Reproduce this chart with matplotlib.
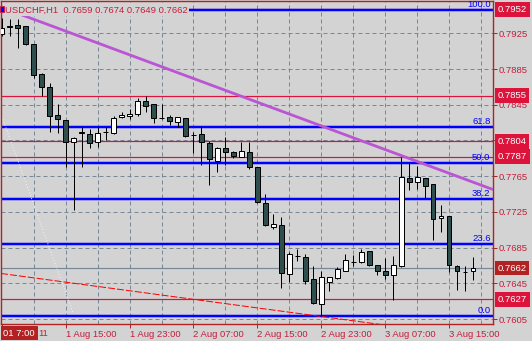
import numpy as np
import matplotlib
matplotlib.use('Agg')
import matplotlib.pyplot as plt
import matplotlib.transforms as mtransforms
from matplotlib.patches import Rectangle

plt.rcParams['font.family'] = ['Liberation Sans', 'DejaVu Sans']

# USDCHF H1, bar 0 = 1 Aug 15:00, first visible bar = 1 Aug 07:00
title = 'USDCHF,H1  0.7659 0.7674 0.7649 0.7662'
bars = np.arange(-8, 52)

opens = [0.7924, 0.7933, 0.7934, 0.7933, 0.7913, 0.7879, 0.7865, 0.7833,
         0.7828, 0.7803, 0.7814, 0.7812, 0.7803, 0.7815, 0.7813, 0.7831,
         0.7832, 0.7835, 0.7849, 0.7846, 0.7830, 0.7831, 0.7826, 0.7830,
         0.7811, 0.7812, 0.7802, 0.7782, 0.7796, 0.7792, 0.7787, 0.7792,
         0.7775, 0.7735, 0.7708, 0.7710, 0.7655, 0.7676, 0.7675, 0.7650,
         0.7622, 0.7646, 0.7651, 0.7659, 0.7669, 0.7669, 0.7681, 0.7666,
         0.7659, 0.7654, 0.7664, 0.7763, 0.7758, 0.7763, 0.7756, 0.7718,
         0.7720, 0.7664, 0.7658, 0.7659]
highs = [0.7942, 0.7941, 0.7941, 0.7933, 0.7913, 0.7880, 0.7869, 0.7846,
         0.7828, 0.7809, 0.7820, 0.7818, 0.7820, 0.7820, 0.7832, 0.7837,
         0.7840, 0.7852, 0.7855, 0.7846, 0.7846, 0.7834, 0.7831, 0.7830,
         0.7815, 0.7821, 0.7804, 0.7798, 0.7809, 0.7793, 0.7803, 0.7803,
         0.7775, 0.7745, 0.7723, 0.7719, 0.7680, 0.7683, 0.7678, 0.7664,
         0.7659, 0.7652, 0.7663, 0.7678, 0.7677, 0.7683, 0.7681, 0.7666,
         0.7673, 0.7676, 0.7787, 0.7780, 0.7776, 0.7763, 0.7756, 0.7733,
         0.7720, 0.7665, 0.7664, 0.7674]
lows = [0.7922, 0.7922, 0.7909, 0.7912, 0.7875, 0.7855, 0.7814, 0.7813,
        0.7775, 0.7727, 0.7775, 0.7797, 0.7798, 0.7806, 0.7812, 0.7830,
        0.7829, 0.7832, 0.7837, 0.7825, 0.7829, 0.7822, 0.7820, 0.7809,
        0.7791, 0.7778, 0.7755, 0.7770, 0.7778, 0.7785, 0.7786, 0.7773,
        0.7735, 0.7709, 0.7706, 0.7640, 0.7647, 0.7670, 0.7644, 0.7622,
        0.7608, 0.7636, 0.7650, 0.7659, 0.7664, 0.7668, 0.7664, 0.7654,
        0.7650, 0.7626, 0.7663, 0.7749, 0.7751, 0.7741, 0.7693, 0.7703,
        0.7658, 0.7638, 0.7636, 0.7649]
closes = [0.7931, 0.7932, 0.7931, 0.7913, 0.7878, 0.7865, 0.7832, 0.7829,
          0.7803, 0.7808, 0.7813, 0.7802, 0.7813, 0.7815, 0.7830, 0.7834,
          0.7835, 0.7849, 0.7844, 0.7830, 0.7830, 0.7827, 0.7831, 0.7810,
          0.7811, 0.7803, 0.7784, 0.7797, 0.7792, 0.7788, 0.7793, 0.7775,
          0.7736, 0.7710, 0.7711, 0.7656, 0.7678, 0.7676, 0.7648, 0.7623,
          0.7652, 0.7652, 0.7661, 0.7671, 0.7669, 0.7680, 0.7665, 0.7659,
          0.7654, 0.7666, 0.7764, 0.7759, 0.7764, 0.7754, 0.7717, 0.7720,
          0.7665, 0.7659, 0.7658, 0.7662]

time_ticks = [-8, 0, 8, 16, 24, 32, 40, 48]
time_labels = ['', '1 Aug 15:00', '1 Aug 23:00', '2 Aug 07:00',
               '2 Aug 15:00', '2 Aug 23:00', '3 Aug 07:00', '3 Aug 15:00']
price_ticks = [0.7925, 0.7885, 0.7845, 0.7805, 0.7765, 0.7725, 0.7685, 0.7645, 0.7605]
grid_bars = np.arange(-4, 53, 4)

red_levels = [0.7952, 0.7855, 0.7804, 0.7787, 0.7627]
last_price = 0.7662
fib_high, fib_low = 0.7951, 0.7608
fib_ratios = [100.0, 61.8, 50.0, 38.2, 23.6, 0.0]

# trendline anchors (bar, price)
purple_line = ([-5.6, 53.5], [0.7946, 0.7750])
red_ray = ([-8.1, 36.0], [0.7656, 0.7603])
fib_diag = ([-8.0, 0.9], [0.7832, 0.7612])

bg = '#d3d3d3'
txt_red = '#c41e3a'
crimson = '#dc143c'
grid_c = '#778899'
bear = '#2f4f4f'
px = 0.72

fig = plt.figure(figsize=(5.32, 3.41), dpi=100, facecolor=bg)
ax = fig.add_axes([1 / 532, 17 / 341, 492 / 532, 323 / 341], facecolor=bg)
ax.set_xlim(-8.1, 53.5)
ax.set_ylim(0.75994, 0.79612)

for p in price_ticks:
    ax.axhline(p, color=grid_c, lw=px, ls=(0, (4, 3)), zorder=1)
for b in grid_bars:
    ax.axvline(b, color=grid_c, lw=px, ls=(0, (4, 3)), zorder=1)

# levels
for lvl in red_levels:
    ax.axhline(lvl, color=crimson, lw=px * 1.2, zorder=2)
ax.axhline(last_price, color=grid_c, lw=px * 1.2, zorder=2)

blend = mtransforms.blended_transform_factory(ax.transAxes, ax.transData)
for r in fib_ratios:
    lvl = fib_low + (fib_high - fib_low) * r / 100
    ax.axhline(lvl, color='#0000ff', lw=px * 2.5, zorder=2)
    ax.text(0.995, lvl + 0.0001, '%.1f' % r, transform=blend, ha='right', va='bottom',
            color='#0000ff', fontsize=6.8, zorder=6)

# trendlines
ax.plot(purple_line[0], purple_line[1], color='#ba55d3', lw=px * 2.8,
        solid_capstyle='butt', zorder=5)
slope = (red_ray[1][1] - red_ray[1][0]) / (red_ray[0][1] - red_ray[0][0])
ax.plot([red_ray[0][0], 60], [red_ray[1][0], red_ray[1][0] + slope * (60 - red_ray[0][0])],
        color='#ff0000', lw=px, ls=(0, (7, 2)), zorder=5)
ax.plot(fib_diag[0], fib_diag[1], color='#f4f4f4', lw=px, ls=(0, (1, 2)), zorder=2)

# candles
ax.vlines(bars, lows, highs, color='black', lw=px, zorder=3)
for b, o, c in zip(bars, opens, closes):
    fc = 'white' if c > o else bear
    ax.add_patch(Rectangle((b - 0.3, min(o, c)), 0.6, abs(c - o), facecolor=fc,
                           edgecolor='black', lw=px, zorder=4))

# axes styling
for s in ax.spines.values():
    s.set_color('#b22222')
    s.set_linewidth(1.0)
ax.yaxis.tick_right()
ax.set_yticks(price_ticks)
ax.set_yticklabels(['%.4f' % p for p in price_ticks])
ax.set_xticks(time_ticks)
ax.set_xticklabels(time_labels, ha='left')
ax.tick_params(axis='both', colors='#b22222', labelcolor=txt_red, labelsize=6.8,
               length=3, width=px, pad=1)

# price boxes on the right axis
for lvl in red_levels:
    ax.text(1.009, lvl, '%.4f' % lvl, transform=blend, ha='left', va='center',
            color='white', fontsize=6.8, clip_on=False, zorder=10,
            bbox=dict(boxstyle='square,pad=0.3', fc=crimson, ec='none'))
ax.text(1.009, last_price, '%.4f' % last_price, transform=blend, ha='left', va='center',
        color='white', fontsize=6.8, clip_on=False, zorder=10,
        bbox=dict(boxstyle='square,pad=0.3', fc='#b22222', ec='none'))

# time box bottom-left, with the tail of the hidden first date label
fig.text(35 / 532, 8 / 341, '01 7:00', ha='right', va='center', color='white',
         fontsize=6.8, zorder=20,
         bbox=dict(boxstyle='square,pad=0.3', fc='#b22222', ec='none'))
fig.text(38 / 532, 8 / 341, '11', ha='left', va='center', color=txt_red, fontsize=6.8)

# title + icon
fig.text(5 / 532, 1 - 12.5 / 341, title, ha='left', va='baseline', color=txt_red,
         fontsize=6.8, zorder=20,
         bbox=dict(boxstyle='square,pad=0.15', fc=bg, ec='none'))
fig.patches.append(Rectangle((0, 1 - 12 / 341), 4 / 532, 6 / 341, transform=fig.transFigure,
                             facecolor='#0000ff', edgecolor=crimson, lw=0.6, zorder=21))

fig.savefig('out.png', dpi=100, facecolor=bg)
